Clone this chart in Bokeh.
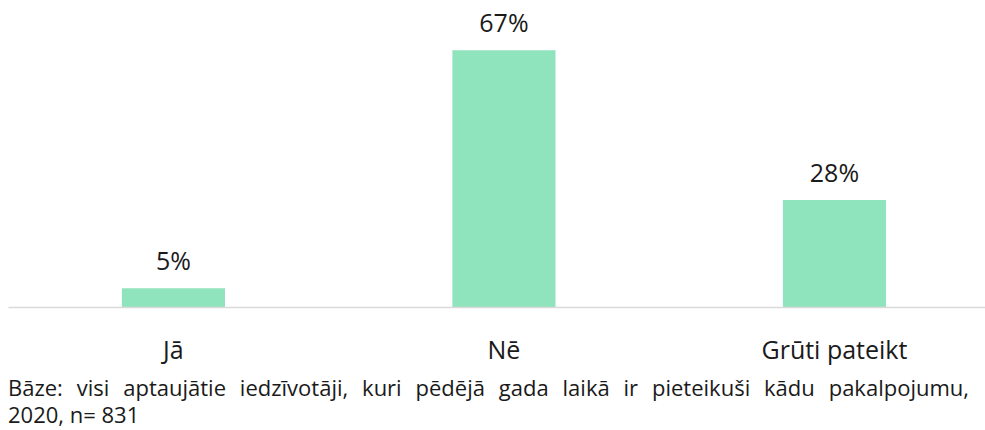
from bokeh.plotting import figure
from bokeh.models import ColumnDataSource, FixedTicker, Range1d, Div
from bokeh.layouts import column
from bokeh.core.properties import value
from bokeh.embed import file_html
from bokeh.resources import INLINE

categories = ["Jā", "Nē", "Grūti pateikt"]
values = [5, 67, 28]
value_labels = ["5%", "67%", "28%"]
footer_line1 = "Bāze: visi aptaujātie iedzīvotāji, kuri pēdējā gada laikā ir pieteikuši kādu pakalpojumu,"
footer_line2 = "2020, n= 831"

FONT = "Open Sans"
BAR_COLOR = "#8FE3BD"
TEXT_COLOR = "#1a1a1a"

xs = list(range(len(categories)))
src = ColumnDataSource(dict(x=xs, top=values, label=value_labels))

p = figure(width=985, height=374, output_backend="svg", toolbar_location=None,
           x_range=Range1d(-0.499, 2.457), y_range=Range1d(0, 77.9),
           min_border_left=8, min_border_right=0, min_border_top=8, min_border_bottom=67)
p.outline_line_color = None
p.background_fill_color = "white"
p.border_fill_color = "white"
p.grid.visible = False
p.yaxis.visible = False

p.vbar(x="x", top="top", bottom=0, width=0.312, source=src,
       fill_color=BAR_COLOR, line_color=None)
p.text(x="x", y="top", text="label", source=src, y_offset=-11,
       text_align="center", text_baseline="bottom",
       text_font=value(FONT), text_font_size="25px", text_color=TEXT_COLOR)

p.xaxis.ticker = FixedTicker(ticks=xs)
p.xaxis.major_label_overrides = {i: c for i, c in zip(xs, categories)}
p.xaxis.major_tick_line_color = None
p.xaxis.minor_tick_line_color = None
p.xaxis.axis_line_color = "#D9D9D9"
p.xaxis.axis_line_width = 1.5
p.xaxis.major_label_standoff = 18
p.xaxis.major_label_text_font = FONT
p.xaxis.major_label_text_font_size = "25px"
p.xaxis.major_label_text_color = TEXT_COLOR

footer = Div(text=(
    f'<div style="font-family:\'{FONT}\';font-size:22px;color:{TEXT_COLOR};line-height:27px;'
    f'width:969px;padding-left:8px;">'
    f'<div style="white-space:nowrap;text-align:justify;text-align-last:justify;">{footer_line1}</div>'
    f'<div>{footer_line2}</div></div>'), width=985, margin=(0, 0, 0, 0))

layout = column(p, footer, spacing=0)
open("out.html", "w").write(file_html(layout, INLINE))
